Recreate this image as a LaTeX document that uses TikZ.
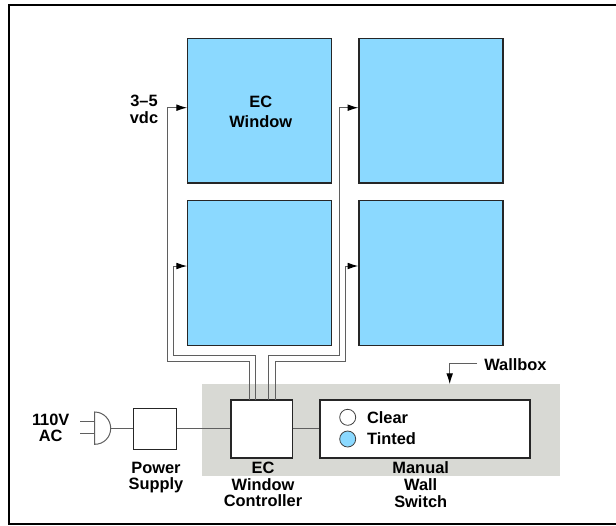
\documentclass[tikz,border=0pt]{standalone}
\usepackage{fontspec}
\setmainfont{Liberation Sans}
\usepackage{tikz}
\usetikzlibrary{positioning,arrows.meta,calc}
\definecolor{ecblue}{RGB}{139,217,255}
\definecolor{wallgray}{RGB}{216,217,212}
\definecolor{wiregray}{RGB}{95,95,95}

\begin{document}
\begin{tikzpicture}[x=0.75pt,y=-0.75pt,
        txt/.style={font=\bfseries\fontsize{12.3}{12.5}\selectfont,align=center,inner sep=0pt},
        pane/.style={draw=black!85,line width=1pt,fill=ecblue,minimum width=108pt,minimum height=108.5pt,inner sep=0pt},
        box/.style={draw=black!85,fill=white,inner sep=0pt},
        wire/.style={draw=wiregray,line width=0.75pt},
        arr/.style={wire,-{Latex[length=8pt,width=5pt,color=black]}}]
        \useasboundingbox (0,0) rectangle (616,525);
        \draw[line width=1.5pt] (616,5) -- (9,5) -- (9,524) -- (616,524);
        \node[fill=wallgray,minimum width=268.5pt,minimum height=68.5pt,inner sep=0pt] (wallbox) at (380.8,430) {};
        % windows
        \node[pane] (win1) at (259.8,110.5) {};
        \node[pane] (win2) at (431,110.5) {};
        \node[pane] (win3) at (259.8,273) {};
        \node[pane] (win4) at (431,273) {};
        \node[txt] (winlabel) at (260.7,112) {EC\\[2.5pt]Window};
        % boxes on the wall
        \node[box,line width=1pt,minimum width=46pt,minimum height=43.5pt] (ctrl) at (261.7,429) {};
        \node[box,line width=1pt,minimum width=157.5pt,minimum height=43.5pt] (switch) at (425,429) {};
        \node[box,line width=0.6pt,minimum width=32.5pt,minimum height=30.75pt] (power) at (155.2,428.8) {};
        \coordinate (plug) at (110.7,428.3);
        \draw[wire,fill=white] (94.7,412) .. controls (104,412) and (110.7,420) .. (plug)
            .. controls (110.7,437) and (104,444.3) .. (94.7,444.3) -- cycle;
        \coordinate (prong1) at (80,421.7);
        \coordinate (prong2) at (80,433.7);
        \draw[wire] (prong1) -- (prong1 -| 94.7,0);
        \draw[wire] (prong2) -- (prong2 -| 94.7,0);
        \draw[wire] (plug) -- (plug -| power.west);
        \draw[wire] (power.east |- plug) -- (plug -| ctrl.west);
        \draw[wire] (plug -| ctrl.east) -- (plug -| switch.west);
        % wires up to the windows
        \coordinate (w1) at (249,400);
        \coordinate (w2) at (255,400);
        \coordinate (w3) at (268.7,400);
        \coordinate (w4) at (275,400);
        \draw[arr] (w1) |- (167.5,361) |- (win1.west |- 0,107.7);
        \draw[arr] (w2) |- (173.3,355) |- (win3.west |- 0,266);
        \draw[arr] (w3) |- (339,355) |- (win2.west |- 0,107.7);
        \draw[arr] (w4) |- (345,361) |- (win4.west |- 0,266);
        % switch lamps
        \node[circle,draw=black!75,line width=0.6pt,fill=white,minimum size=12pt,inner sep=0pt] (clear) at (347.7,417.3) {};
        \node[circle,draw=black!75,line width=0.6pt,fill=ecblue,minimum size=12pt,inner sep=0pt] (tinted) at (347.7,439) {};
        \node[txt,right=8pt of clear] (cleartxt) {Clear};
        \node[txt,right=8pt of tinted] (tintedtxt) {Tinted};
        % labels
        \node[txt] (ac) at (50.7,428) {110V\\AC};
        \node[txt] (vdc) at (144,109.5) {3–5\\vdc};
        \node[txt] (powertxt) at (156,477.5) {Power\\Supply};
        \node[txt] (ctrltxt) at (263,484.5) {EC\\Window\\Controller};
        \node[txt] (switchtxt) at (420.7,484.5) {Manual\\Wall\\Switch};
        \node[txt,anchor=west] (walltxt) at (484,365) {Wallbox};
        \draw[arr] (walltxt.west |- 0,363.3) ++(-7,0) -| (wallbox.north -| 449.7,0);
\end{tikzpicture}
\end{document}
